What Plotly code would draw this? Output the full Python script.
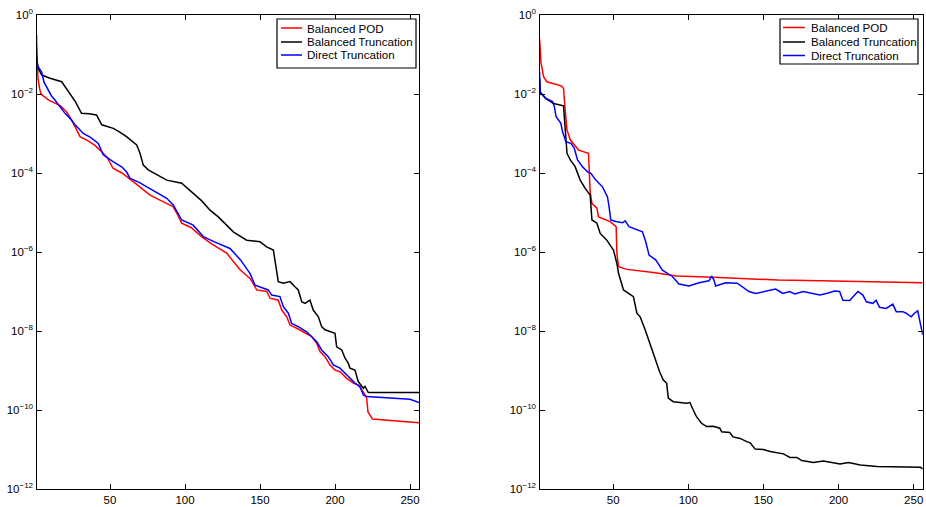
import numpy as np
import plotly.graph_objects as go

# ---------------- data (x index, log10 of error) ----------------
# Left panel
left_pod_x = [1, 1.5, 2, 3, 4, 8.9, 12, 17, 21, 24.5, 27, 30, 36, 40, 43.3, 48, 52, 58, 65.5, 70, 76.7, 84, 92, 95, 97.8,
              104, 111, 118, 127.8, 136.7, 143.3, 145.5, 147.8, 154.5, 156.7, 162.2, 164.5, 167.8, 170, 174.5, 178.9,
              184.5, 187.8, 190, 193.3, 196.7, 200, 203.3, 207.8, 212.2, 215.5, 218.9, 221.1, 222, 225, 241, 256]
left_pod_log = [-0.8, -1.45, -1.6, -1.85, -2.0, -2.15, -2.2, -2.3, -2.45, -2.66, -2.85, -3.08, -3.2, -3.3, -3.42, -3.6,
                -3.88, -4.0, -4.22, -4.35, -4.56, -4.7, -4.85, -5.05, -5.27, -5.38, -5.61, -5.8, -6.03, -6.45, -6.67,
                -6.8, -6.96, -7.0, -7.17, -7.22, -7.47, -7.64, -7.85, -7.93, -8.02, -8.14, -8.31, -8.52, -8.65, -8.86,
                -8.99, -9.03, -9.2, -9.32, -9.37, -9.54, -9.7, -10.05, -10.23, -10.27, -10.32]

left_bt_x = [1, 2, 4.5, 10, 17.8, 21, 24.5, 27, 31, 36, 41, 44.5, 52.2, 56, 61, 67.8, 70, 72.2, 75.5, 82, 87.8, 97.8,
             105.5, 111, 116.7, 122.2, 132.2, 141.1, 150, 154.4, 158.9, 161, 162.2, 165.5, 170, 173.3, 175.5, 177.8,
             180, 183.3, 185.5, 188.9, 191.1, 193.3, 196.7, 200, 201.1, 204.5, 206.7, 208.9, 210, 213.3, 215.5,
             218.9, 220, 222.2, 256]
left_bt_log = [-1.06, -1.34, -1.52, -1.6, -1.69, -1.86, -2.07, -2.2, -2.49, -2.5, -2.53, -2.78, -2.87, -2.95, -3.08,
               -3.29, -3.5, -3.8, -3.92, -4.05, -4.18, -4.26, -4.51, -4.7, -4.94, -5.11, -5.49, -5.7, -5.74, -5.87,
               -5.95, -6.4, -6.75, -6.79, -6.75, -6.88, -6.96, -7.26, -7.3, -7.22, -7.47, -7.64, -7.89, -7.97, -8.02,
               -8.06, -8.4, -8.48, -8.69, -8.82, -8.94, -8.99, -9.28, -9.45, -9.4, -9.56, -9.56]

left_dt_x = [1, 1.2, 2, 4.5, 6, 8.7, 11, 13.3, 17, 20, 23, 26.7, 32.2, 37, 42.2, 45.5, 52, 58, 61, 63.3, 70, 76.7, 82,
             87.8, 92.2, 95, 97.8, 105.5, 112.2, 120, 130, 137, 143.3, 146.7, 150, 155.5, 157.8, 163.3, 165.5, 168.9,
             171.1, 175.5, 181.1, 184.5, 187.8, 191.1, 195.5, 198.9, 203.3, 207.8, 213.3, 216.7, 218.9, 221.1, 240,
             250, 256]
left_dt_log = [-0.5, -1.2, -1.3, -1.45, -1.7, -1.9, -2.05, -2.15, -2.35, -2.49, -2.6, -2.78, -3.0, -3.1, -3.25, -3.54,
               -3.71, -3.85, -3.97, -4.13, -4.25, -4.39, -4.5, -4.64, -4.81, -5.0, -5.19, -5.32, -5.61, -5.75, -5.91,
               -6.2, -6.54, -6.84, -6.88, -6.96, -7.09, -7.13, -7.38, -7.55, -7.81, -7.89, -8.02, -8.14, -8.27, -8.48,
               -8.65, -8.86, -8.94, -9.11, -9.32, -9.41, -9.62, -9.66, -9.7, -9.73, -9.81]

# Right panel
right_pod_x = [1, 2, 3.7, 5.9, 15.9, 17, 18.1, 19.3, 21.5, 27, 33.6, 34.7, 35.9, 39.2, 40.3, 48, 52, 52.5, 53.6, 59.2,
               76.8, 92.3, 116.6, 160, 187.7, 256]
right_pod_log = [-0.59, -1.2, -1.56, -1.69, -1.8, -1.86, -2.41, -2.91, -3.16, -3.42, -3.5, -4.47, -4.77, -4.89, -5.11,
                 -5.23, -5.36, -6.03, -6.37, -6.44, -6.52, -6.61, -6.64, -6.71, -6.73, -6.78]

right_bt_x = [1, 1.5, 5, 10.4, 17, 18.1, 19.3, 21.5, 24.7, 28.1, 31.4, 34.7, 35.9, 39.2, 41.4, 45.8, 50.2, 52.5, 53.6,
              56.9, 63.5, 65.8, 68, 71.3, 74.7, 77.9, 81, 83.4, 85.6, 86.7, 90, 98.9, 101.1, 103.3, 105.5, 108.9,
              112.2, 116.6, 121, 122.2, 127.6, 129.8, 134.5, 138.9, 141.2, 144.5, 150, 154.5, 163.3, 167.7, 172.2,
              175.5, 183.3, 189.9, 201, 206.6, 214.5, 225.6, 241.2, 254.5, 256]
right_bt_log = [-1.6, -1.95, -2.11, -2.24, -2.3, -3.0, -3.5, -3.67, -3.84, -4.18, -4.39, -4.56, -5.19, -5.27, -5.53,
                -5.7, -5.95, -6.29, -6.54, -6.96, -7.13, -7.55, -7.64, -7.97, -8.35, -8.73, -9.04, -9.24, -9.32, -9.7,
                -9.79, -9.83, -9.81, -10.0, -10.17, -10.34, -10.42, -10.41, -10.46, -10.55, -10.57, -10.68, -10.72,
                -10.8, -10.83, -10.99, -11.0, -11.05, -11.11, -11.2, -11.2, -11.28, -11.33, -11.29, -11.37, -11.33,
                -11.39, -11.43, -11.45, -11.45, -11.49]

right_dt_x = [1, 1.5, 5.4, 9.7, 10.9, 12, 15.2, 16.3, 18.6, 21.9, 24.1, 26.3, 29.6, 33, 35.2, 38.5, 42.9, 46.2, 47.3,
              48.4, 51.8, 56.2, 58, 60.6, 69.5, 71.7, 73.9, 78.3, 82.8, 89.4, 93.8, 100.5, 107.1, 113.8, 115.5, 117.1,
              118.2, 124.8, 132.6, 140.4, 144.8, 150, 158.1, 160.9, 163, 167.5, 170.9, 176.4, 183, 187.5, 191.9,
              197.4, 200.7, 202.9, 207.4, 209.6, 212.9, 216.2, 218.5, 222.8, 225, 227.3, 231.7, 236.1, 238.4, 242.8,
              245, 248.3, 250.5, 252.7, 255, 256]
right_dt_log = [-1.43, -1.98, -2.11, -2.19, -2.32, -2.57, -2.74, -2.95, -3.21, -3.25, -3.37, -3.67, -3.84, -3.97,
                -4.01, -4.18, -4.35, -4.6, -4.85, -5.19, -5.23, -5.26, -5.21, -5.36, -5.49, -5.74, -6.08, -6.2, -6.46,
                -6.62, -6.81, -6.86, -6.78, -6.73, -6.61, -6.71, -6.86, -6.78, -6.79, -7.0, -7.05, -7.0, -6.94, -7.0,
                -7.05, -7.0, -7.06, -7.0, -7.05, -7.09, -7.05, -6.99, -7.0, -7.22, -7.23, -7.13, -7.0, -7.09, -7.26,
                -7.3, -7.22, -7.4, -7.43, -7.32, -7.51, -7.51, -7.55, -7.64, -7.55, -7.49, -7.89, -8.1]

series_names = ["Balanced POD", "Balanced Truncation", "Direct Truncation"]
series_colors = ["#ff0000", "#000000", "#0000ff"]
x_tick_vals = [50, 100, 150, 200, 250]
y_tick_vals = [1e0, 1e-2, 1e-4, 1e-6, 1e-8, 1e-10, 1e-12]
y_tick_text = ["10<sup>0</sup>", "10<sup>−2</sup>", "10<sup>−4</sup>", "10<sup>−6</sup>",
               "10<sup>−8</sup>", "10<sup>−10</sup>", "10<sup>−12</sup>"]

# ---------------- figure ----------------
W, H = 926, 507
MT, MB = 15, 18
PH = H - MT - MB
fig = go.Figure()

panels = [
    ("x", "y", [(left_pod_x, left_pod_log), (left_bt_x, left_bt_log), (left_dt_x, left_dt_log)]),
    ("x2", "y2", [(right_pod_x, right_pod_log), (right_bt_x, right_bt_log), (right_dt_x, right_dt_log)]),
]
for xa, ya, data in panels:
    for (xs, ls), name, col in zip(data, series_names, series_colors):
        fig.add_trace(go.Scatter(
            x=xs, y=10.0 ** np.array(ls), mode="lines", name=name,
            line=dict(color=col, width=1.5), xaxis=xa, yaxis=ya, showlegend=False,
        ))

font_family = "Liberation Sans, Arial, Helvetica, sans-serif"
axis_common = dict(
    showline=True, linecolor="black", linewidth=1.2, mirror="allticks",
    ticks="inside", ticklen=5, tickwidth=1, tickcolor="black",
    showgrid=False, zeroline=False,
    tickfont=dict(family=font_family, size=11.5, color="black"),
)
xcommon = dict(axis_common, range=[1, 256], tickvals=x_tick_vals)
ycommon = dict(axis_common, type="log", range=[-12, 0], tickvals=y_tick_vals, ticktext=y_tick_text)


def px_x(p):
    return p / W


def px_y(p):
    return 1 - (p - MT) / PH


# Custom MATLAB-style legends (box, line samples, labels), in pixel layout
shapes = []
annotations = []
legend_boxes = [
    # (box left, box right, box top, box bottom, sample x0, sample x1, text x, row y's)
    (277, 416, 19, 68, 281, 302, 305, [28, 42, 55]),
    (780, 918, 19, 64, 783, 805, 809, [27.5, 42, 55.5]),
]
for bx0, bx1, by0, by1, sx0, sx1, tx, rows in legend_boxes:
    shapes.append(dict(type="rect", xref="paper", yref="paper",
                       x0=px_x(bx0), x1=px_x(bx1), y0=px_y(by1), y1=px_y(by0),
                       line=dict(color="black", width=1.2), fillcolor="white", layer="above"))
    for ry, name, col in zip(rows, series_names, series_colors):
        shapes.append(dict(type="line", xref="paper", yref="paper",
                           x0=px_x(sx0), x1=px_x(sx1), y0=px_y(ry), y1=px_y(ry),
                           line=dict(color=col, width=1.5), layer="above"))
        annotations.append(dict(text=name, xref="paper", yref="paper",
                                x=px_x(tx), y=px_y(ry), xanchor="left", yanchor="middle",
                                showarrow=False,
                                font=dict(family=font_family, size=11.6, color="black")))

fig.update_layout(
    width=W, height=H,
    margin=dict(l=0, r=0, t=MT, b=MB),
    paper_bgcolor="white", plot_bgcolor="white",
    font=dict(family=font_family, size=11, color="black"),
    xaxis=dict(xcommon, domain=[36.5 / W, 419 / W], anchor="y"),
    yaxis=dict(ycommon, anchor="x"),
    xaxis2=dict(xcommon, domain=[539.5 / W, 922.7 / W], anchor="y2"),
    yaxis2=dict(ycommon, anchor="x2"),
    shapes=shapes,
    annotations=annotations,
    showlegend=False,
    hovermode=False,
)

fig.write_html("out.html",
               config={"displayModeBar": False},
               post_script="document.body.style.margin='0';document.body.style.padding='0';")
